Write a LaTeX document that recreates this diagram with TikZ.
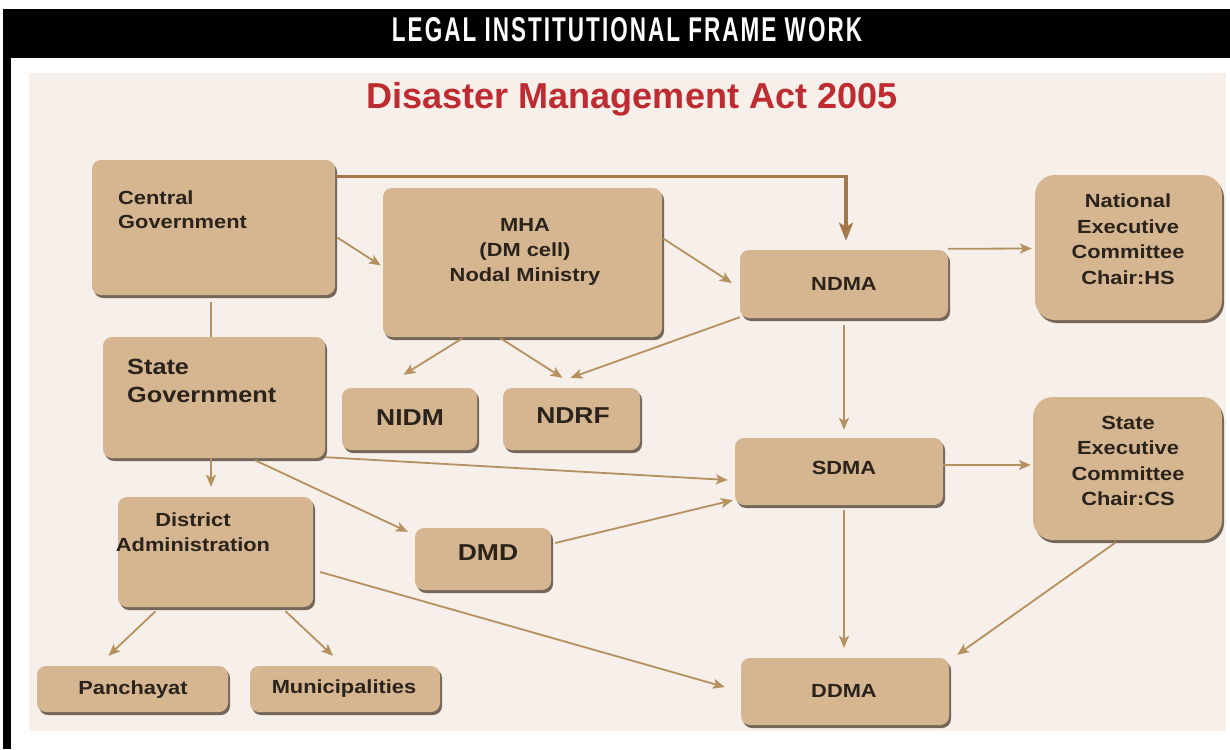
\documentclass[tikz,border=0pt]{standalone}
\usepackage{fontspec}
\setmainfont{Liberation Sans}
\newfontfamily\boxfont{Liberation Sans}[FakeStretch=1.15]
\newfontfamily\headfont{Liberation Sans}[LetterSpace=9]
\usetikzlibrary{calc,fit,shadows,arrows.meta}

\definecolor{bgc}{HTML}{F7EFE9}
\definecolor{boxc}{HTML}{D5B690}
\definecolor{shadc}{HTML}{5E5040}
\definecolor{linec}{HTML}{B4915F}
\definecolor{toplinec}{HTML}{A5764A}
\definecolor{txtc}{HTML}{2A231C}
\definecolor{titlec}{HTML}{BE2B30}

\newcommand{\fs}[2]{\fontsize{#1pt}{#2pt}\selectfont}

\tikzset{
  tbox/.style={fill=boxc, rounded corners=9pt, inner sep=0pt,
    drop shadow={shadow xshift=2pt, shadow yshift=-3pt, fill=shadc, opacity=0.85}},
  bigbox/.style={tbox, rounded corners=20pt},
  lbl/.style={text=txtc, font=\boxfont\bfseries, inner sep=0pt},
  conn/.style={draw=linec, line width=1.8pt, -{Stealth[length=12pt,width=10pt,inset=3pt]}},
  plainconn/.style={draw=linec, line width=1.8pt},
  topconn/.style={draw=toplinec, line width=3.2pt, -{Stealth[length=18pt,width=14pt,inset=4pt]}}
}

\begin{document}
\begin{tikzpicture}[x=1pt,y=-1pt]
\useasboundingbox (0,0) rectangle (1230,749);
\fill[white] (0,0) rectangle (1230,749);

% frame: black header band and left rule
\fill[black] (3,9) rectangle (1230,58);
\fill[black] (3,9) rectangle (11,749);
\node[anchor=base, text=white, inner sep=0pt] (head) at (627,42)
  {\resizebox{470pt}{24pt}{\headfont\bfseries LEGAL INSTITUTIONAL FRAME WORK}};

% chart panel
\fill[bgc] (29,73) rectangle (1226,731);
\node[anchor=base, text=titlec, inner sep=0pt] (title) at (632,109)
  {\resizebox{531pt}{!}{\bfseries\fs{31}{31}Disaster Management Act 2005}};

% boxes
\node[tbox, fit={(92,160) (335,295)}] (cg) {};
\node[tbox, fit={(383,188) (662,337)}] (mha) {};
\node[tbox, fit={(740,250) (948,318)}] (ndma) {};
\node[bigbox, fit={(1035,175) (1222,320)}] (nec) {};
\node[tbox, fit={(103,337) (325,458)}] (sg) {};
\node[tbox, fit={(342,388) (477,450)}] (nidm) {};
\node[tbox, fit={(503,388) (640,450)}] (ndrf) {};
\node[tbox, fit={(735,438) (943,505)}] (sdma) {};
\node[bigbox, fit={(1033,397) (1222,540)}] (sec) {};
\node[tbox, fit={(118,497) (313,607)}] (da) {};
\node[tbox, fit={(415,528) (551,590)}] (dmd) {};
\node[tbox, fit={(741,658) (949,725)}] (ddma) {};
\node[tbox, fit={(37,666) (228,712)}] (pan) {};
\node[tbox, fit={(250,666) (440,712)}] (mun) {};

% box texts
\node[lbl, anchor=west, align=left, font=\boxfont\bfseries\fs{19}{24}] (cg-t) at (118,210) {Central\\Government};
\node[lbl, anchor=west, align=left, font=\boxfont\bfseries\fs{22}{28}] (sg-t) at (127,381) {State\\Government};
\node[lbl, align=center, font=\boxfont\bfseries\fs{19}{25}] (mha-t) at (525,252) {MHA\\(DM cell)\\Nodal Ministry};
\node[lbl, font=\boxfont\bfseries\fs{19}{24}] (ndma-t) at (844,284) {NDMA};
\node[lbl, align=center, font=\boxfont\bfseries\fs{19}{25.5}] (nec-t) at (1128,239) {National\\Executive\\Committee\\Chair:HS};
\node[lbl, font=\boxfont\bfseries\fs{23}{28}] (nidm-t) at (410,418) {NIDM};
\node[lbl, font=\boxfont\bfseries\fs{23}{28}] (ndrf-t) at (573,416) {NDRF};
\node[lbl, font=\boxfont\bfseries\fs{19}{24}] (sdma-t) at (844,468) {SDMA};
\node[lbl, align=center, font=\boxfont\bfseries\fs{19}{25.5}] (sec-t) at (1128,461) {State\\Executive\\Committee\\Chair:CS};
\node[lbl, align=center, font=\boxfont\bfseries\fs{19}{25}] (da-t) at (193,532) {District\\Administration};
\node[lbl, font=\boxfont\bfseries\fs{23}{28}] (dmd-t) at (488,553) {DMD};
\node[lbl, font=\boxfont\bfseries\fs{19}{24}] (ddma-t) at (844,691) {DDMA};
\node[lbl, font=\boxfont\bfseries\fs{19}{24}] (pan-t) at (133,690) {Panchayat};
\node[lbl, font=\boxfont\bfseries\fs{19}{24}] (mun-t) at (344,689) {Municipalities};

% connectors
\draw[topconn] ($(cg.north east)+(0,17)$) -| ($(ndma.north)+(2,-9)$);
\draw[conn] ($(cg.east)+(2,10)$) -- ($(mha.west)+(-2,3)$);
\draw[conn] ($(mha.east)+(1,-24)$) -- ($(ndma.west)+(-8,-1)$);
\draw[conn] ($(mha.south)+(-60,1)$) -- ($(nidm.north)+(-6,-13)$);
\draw[conn] ($(mha.south)+(-22,1)$) -- ($(ndrf.north)+(-9,-10)$);
\draw[conn] ($(ndma.south west)+(0,-1)$) -- ($(ndrf.north)+(-1,-10)$);
\draw[conn] ($(ndma.north east)+(0,-1)$) -- ($(nec.west)+(-3,1)$);
\draw[conn] ($(ndma.south)+(0,7)$) -- ($(sdma.north)+(5,-8)$);
\draw[plainconn] ($(cg.south)+(-2.5,7)$) -- ($(sg.north)+(-3,0)$);
\draw[conn] ($(sg.south)+(-3,0)$) -- ($(da.north)+(-4.5,-10)$);
\draw[conn] ($(sg.south east)+(0,-1)$) -- ($(sdma.west)+(-7,8.5)$);
\draw[conn] ($(sg.south)+(41,2)$) -- ($(dmd.north west)+(-7,4)$);
\draw[conn] ($(dmd.east)+(4,-16)$) -- ($(sdma.south west)+(-2,-5)$);
\draw[conn] ($(sdma.east)+(0,-6.5)$) -- ($(sec.west |- sdma.east)+(-2,-6.5)$);
\draw[conn] ($(sdma.south)+(5,5)$) -- ($(ddma.north)+(-1,-10)$);
\draw[conn] ($(sec.south)+(-11.5,2)$) -- ($(ddma.north east)+(8,-3)$);
\draw[conn] ($(da.east)+(7,20)$) -- ($(ddma.west)+(-16,-4.5)$);
\draw[conn] ($(da.south)+(-60,4)$) -- ($(pan.north)+(-24,-10)$);
\draw[conn] ($(da.south)+(70,4)$) -- ($(mun.north)+(-12,-10)$);
\end{tikzpicture}
\end{document}
